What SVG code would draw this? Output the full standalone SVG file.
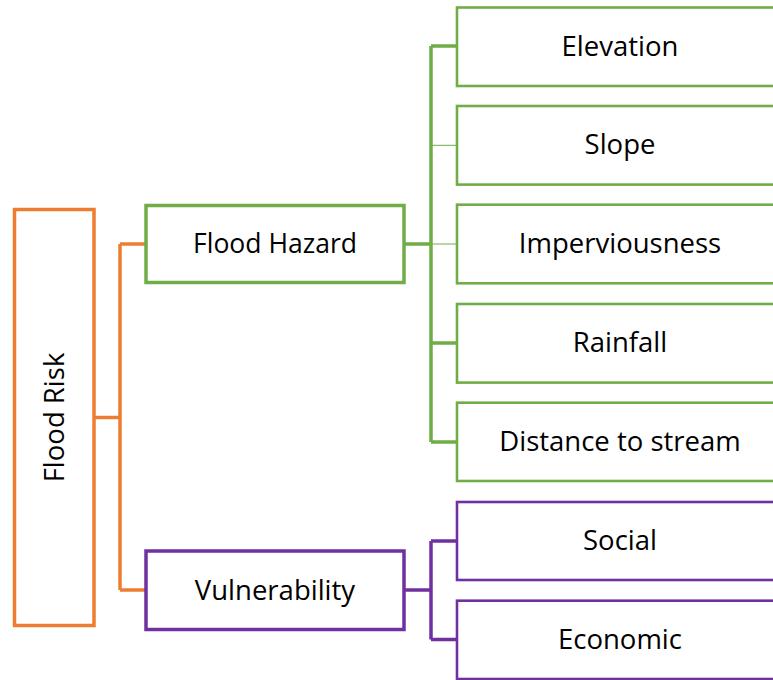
<svg xmlns="http://www.w3.org/2000/svg" width="773" height="680" viewBox="0 0 773 680">
<style>
  .lbl { font-family: "Open Sans", "Liberation Sans", sans-serif; font-size: 27.5px; fill: #000; text-anchor: middle; }
  .box { fill: #fff; }
  .or { stroke: #ED7D31; }
  .gr { stroke: #70AD47; }
  .pu { stroke: #7030A0; }
  .main { stroke-width: 3.5; }
  .child { stroke-width: 2.6; }
  .con { fill: none; stroke-width: 3.5; }
</style>
<rect width="773" height="680" fill="#fff"/>
<g id="connectors">
  <path class="con or" d="M94 417.5 H120 M120 244 V590 M120 244 H146 M120 590 H146"/>
  <path class="con gr" d="M404 244 H431 M431 46 V442 M431 46 H457 M431 343 H457 M431 442 H457"/>
  <path class="gr" fill="none" stroke-width="1" d="M431 145.3 H457 M431 244 H457"/>
  <path class="con pu" d="M404 590 H431 M431 541 V639.5 M431 541 H457 M431 639.5 H457"/>
</g>
<g id="flood-risk">
  <rect class="box or main" x="14.5" y="209.5" width="79.5" height="416"/>
  <text class="lbl" transform="translate(63.5 417.5) rotate(-90)">Flood Risk</text>
</g>
<g id="flood-hazard">
  <rect class="box gr main" x="146" y="205.5" width="258" height="77"/>
  <text class="lbl" x="275" y="253.3" textLength="164" lengthAdjust="spacingAndGlyphs">Flood Hazard</text>
</g>
<g id="vulnerability">
  <rect class="box pu main" x="146" y="551" width="258" height="78.5"/>
  <text class="lbl" x="275" y="599.5">Vulnerability</text>
</g>
<g id="elevation">
  <rect class="box gr child" x="457" y="7.5" width="326" height="78.5"/>
  <text class="lbl" x="620" y="55.8">Elevation</text>
</g>
<g id="slope">
  <rect class="box gr child" x="457" y="106" width="326" height="78.6"/>
  <text class="lbl" x="620" y="154.3">Slope</text>
</g>
<g id="imperviousness">
  <rect class="box gr child" x="457" y="204.7" width="326" height="78.6"/>
  <text class="lbl" x="620" y="253">Imperviousness</text>
</g>
<g id="rainfall">
  <rect class="box gr child" x="457" y="304" width="326" height="78.6"/>
  <text class="lbl" x="620" y="352.3">Rainfall</text>
</g>
<g id="distance-to-stream">
  <rect class="box gr child" x="457" y="402.7" width="326" height="78.3"/>
  <text class="lbl" x="620" y="450.8">Distance to stream</text>
</g>
<g id="social">
  <rect class="box pu child" x="457" y="502" width="326" height="78"/>
  <text class="lbl" x="620" y="550">Social</text>
</g>
<g id="economic">
  <rect class="box pu child" x="457" y="600.7" width="326" height="78.3"/>
  <text class="lbl" x="620" y="649">Economic</text>
</g>
</svg>
